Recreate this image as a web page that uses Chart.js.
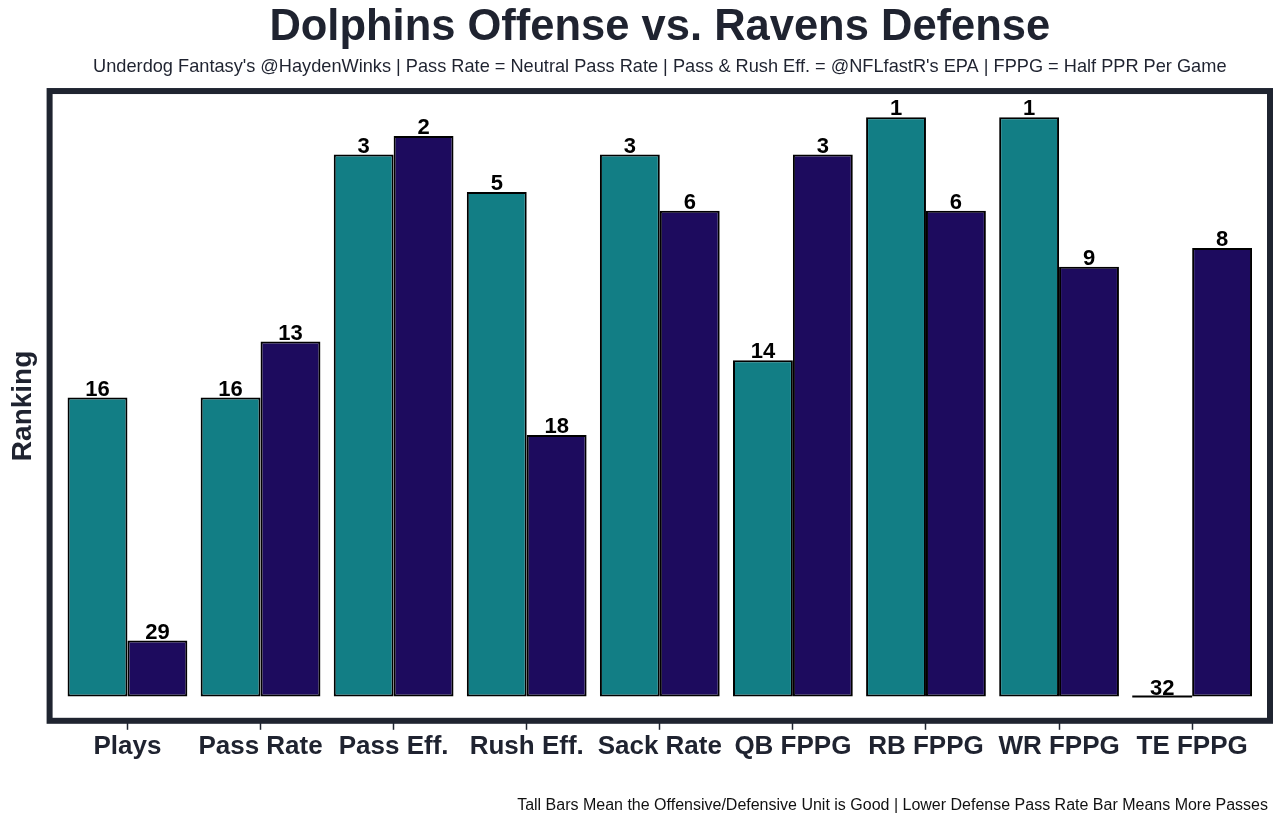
<!DOCTYPE html>
<html>
<head>
<meta charset="utf-8">
<script src="https://cdn.jsdelivr.net/npm/chart.js@4"></script>
<style>
  html, body { margin: 0; padding: 0; background: white; }
  #wrap { width: 1280px; height: 826px; }
</style>
</head>
<body>
<div id="wrap"><canvas id="matchup"></canvas></div>
<script>
        Chart.defaults.font.family = "'Liberation Sans', Arial, Helvetica, sans-serif";
        Chart.defaults.color = "#1f2330";

        // ranks (1 = best, 32 = worst)
        var categories = ["Plays", "Pass Rate", "Pass Eff.", "Rush Eff.", "Sack Rate", "QB FPPG", "RB FPPG", "WR FPPG", "TE FPPG"];
        var offenseRank = [16, 16, 3, 5, 3, 14, 1, 1, 32];
        var defenseRank = [29, 13, 2, 18, 6, 3, 6, 9, 8];
        var teamCount = 32;

        var frameColour = "#1f2430";

        function toBars(ranks) {
            // tall bar = good rank
            return ranks.map(function (r, i) { return {x: i, y: teamCount - r, rank: r}; });
        }

        var framePlugin = {
            id: 'frame',
            afterDraw: function (chart) {
                const {ctx, chartArea} = chart;
                ctx.save();
                ctx.strokeStyle = frameColour;
                ctx.lineWidth = 6;
                ctx.strokeRect(chartArea.left, chartArea.top, chartArea.right - chartArea.left, chartArea.bottom - chartArea.top);
                // footer note
                ctx.fillStyle = "#111111";
                ctx.font = "16px 'Liberation Sans', Arial, sans-serif";
                ctx.textAlign = "right";
                ctx.textBaseline = "middle";
                ctx.fillText("Tall Bars Mean the Offensive/Defensive Unit is Good | Lower Defense Pass Rate Bar Means More Passes", chart.width - 12, 806);
                ctx.restore();
            }
        };

        var rankLabels = {
            id: 'rankLabels',
            afterDatasetsDraw: function (chart) {
                const {ctx} = chart;
                ctx.save();
                chart.data.datasets.forEach(function (ds, di) {
                    chart.getDatasetMeta(di).data.forEach(function (bar, i) {
                        var item = ds.data[i];
                        if (item.y === 0) {
                            ctx.strokeStyle = "#000000";
                            ctx.lineWidth = 2;
                            ctx.beginPath();
                            ctx.moveTo(bar.x - bar.width / 2, bar.base);
                            ctx.lineTo(bar.x + bar.width / 2, bar.base);
                            ctx.stroke();
                        }
                        ctx.fillStyle = "#000000";
                        ctx.font = "bold 22px 'Liberation Sans', Arial, sans-serif";
                        ctx.textAlign = "center";
                        ctx.textBaseline = "bottom";
                        ctx.fillText(String(item.rank), bar.x, Math.min(bar.y, bar.base) + 3);
                    });
                });
                ctx.restore();
            }
        };

        const el = document.getElementById("matchup");
        new Chart(el, {
            type: "bar",
            data: {
                datasets: [{
                    label: "Dolphins Offense",
                    data: toBars(offenseRank),
                    backgroundColor: "rgb(18, 126, 133)",
                    borderColor: "#000000",
                    borderWidth: 2,
                    borderSkipped: false
                }, {
                    label: "Ravens Defense",
                    data: toBars(defenseRank),
                    backgroundColor: "rgb(29, 11, 94)",
                    borderColor: "#000000",
                    borderWidth: 2,
                    borderSkipped: false
                }]
            },
            options: {
                responsive: true,
                maintainAspectRatio: false,
                animation: false,
                categoryPercentage: 0.9,
                barPercentage: 1.0,
                layout: {
                    padding: {left: 6, right: 10, top: 0, bottom: 63}
                },
                plugins: {
                    legend: { display: false },
                    tooltip: { enabled: false },
                    title: {
                        display: true,
                        fullSize: false,
                        text: "Dolphins Offense vs. Ravens Defense",
                        color: "#1f2330",
                        font: { size: 43.5, weight: "bold" },
                        padding: { top: 2, bottom: 2 }
                    },
                    subtitle: {
                        display: true,
                        fullSize: false,
                        text: "Underdog Fantasy's @HaydenWinks | Pass Rate = Neutral Pass Rate | Pass & Rush Eff. = @NFLfastR's EPA | FPPG = Half PPR Per Game",
                        color: "#1f2330",
                        font: { size: 18.2 },
                        padding: { top: 0, bottom: 13 }
                    }
                },
                scales: {
                    x: {
                        type: "linear",
                        min: -0.585,
                        max: 8.585,
                        offset: false,
                        border: { display: false },
                        grid: {
                            offset: false,
                            drawOnChartArea: false,
                            drawTicks: true,
                            tickLength: 9,
                            tickWidth: 1.5,
                            tickColor: frameColour
                        },
                        afterBuildTicks: function (axis) {
                            axis.ticks = categories.map(function (c, i) { return {value: i}; });
                        },
                        ticks: {
                            autoSkip: false,
                            maxRotation: 0,
                            padding: 1,
                            color: "#1f2330",
                            font: { size: 26, weight: "bold" },
                            callback: function (value) { return categories[value]; }
                        }
                    },
                    y: {
                        min: -1.3,
                        max: 32.4,
                        border: { display: false },
                        grid: { display: false, drawTicks: false },
                        ticks: { display: false },
                        title: {
                            display: true,
                            text: "Ranking",
                            color: "#1f2330",
                            font: { size: 28, weight: "bold" },
                            padding: { top: 0, bottom: 10 }
                        }
                    }
                }
            },
            plugins: [framePlugin, rankLabels]
        });
</script>
</body>
</html>
